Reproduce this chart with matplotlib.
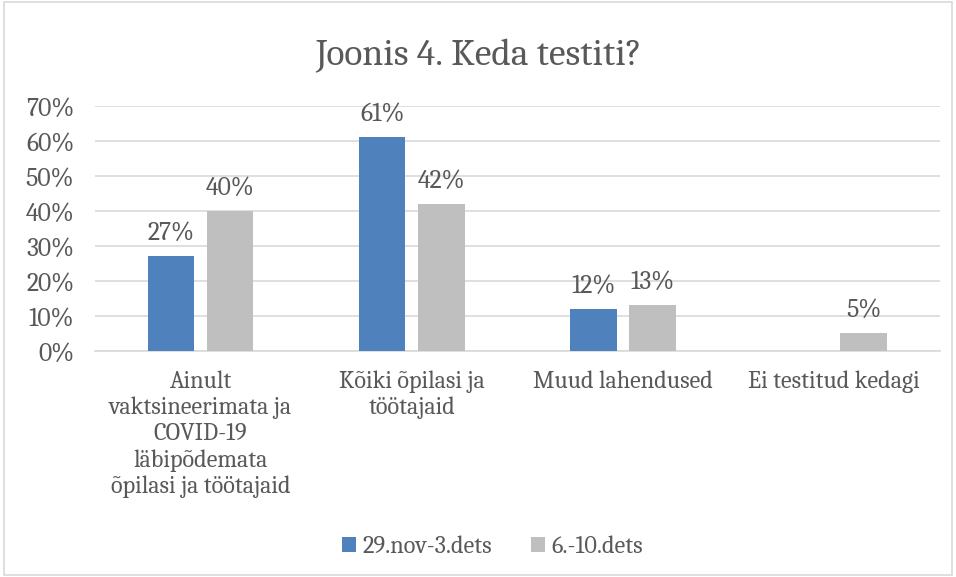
import matplotlib.pyplot as plt
import numpy as np
from matplotlib.patches import Rectangle

# data
categories = ['Ainult\nvaktsineerimata ja\nCOVID-19\nläbipõdemata\nõpilasi ja töötajaid',
              'Kõiki õpilasi ja\ntöötajaid',
              'Muud lahendused',
              'Ei testitud kedagi']
series_names = ['29.nov-3.dets', '6.-10.dets']
week1 = [27, 61, 12, None]
week2 = [40, 42, 13, 5]

txt = '#595959'
plt.rcParams['font.family'] = ['Caladea', 'DejaVu Serif']

fig = plt.figure(figsize=(9.56, 5.77), dpi=100)
ax = fig.add_axes([0.0994, 0.3917, 0.8836, 0.4246])

x = np.arange(len(categories))
w = 0.22
off = 0.14
colors = ['#4f81bd', '#bfbfbf']
for vals, sign, col, name in [(week1, -1, colors[0], series_names[0]),
                              (week2, 1, colors[1], series_names[1])]:
    xs = [xi + sign * off for xi, v in zip(x, vals) if v is not None]
    vs = [v for v in vals if v is not None]
    ax.bar(xs, vs, width=w, color=col, label=name, zorder=3)
    for xi, v in zip(xs, vs):
        ax.text(xi, v + 3.0, f'{v}%', ha='center', va='bottom', fontsize=18.5, color=txt)

ax.set_xlim(-0.5, 3.5)
ax.set_ylim(0, 70)
ax.set_yticks(range(0, 71, 10))
ax.set_yticklabels([f'{t}%' for t in range(0, 71, 10)])
ax.yaxis.grid(True, color='#d9d9d9', linewidth=1.2, zorder=0)
ax.set_xticks(x)
ax.set_xticklabels(categories, linespacing=1.2, va='top')
ax.tick_params(axis='y', length=0, labelsize=18.5, labelcolor=txt, pad=15)
ax.tick_params(axis='x', length=0, labelsize=17.5, labelcolor=txt, pad=14)
for s in ['top', 'right', 'left']:
    ax.spines[s].set_visible(False)
ax.spines['bottom'].set_color('#d9d9d9')
ax.spines['bottom'].set_linewidth(1.2)

fig.suptitle('Joonis 4. Keda testiti?', x=0.501, y=0.932, fontsize=27, color=txt)

fig.legend(loc='center', bbox_to_anchor=(0.515, 0.052), ncol=2, frameon=False,
           fontsize=17.5, labelcolor=txt, handlelength=0.6, handleheight=0.6,
           handletextpad=0.25, columnspacing=1.6)

fig.patches.append(Rectangle((0.004, 0.004), 0.992, 0.992, transform=fig.transFigure,
                             fill=False, edgecolor='#d9d9d9', linewidth=1.2))

fig.savefig('out.png', dpi=100)
